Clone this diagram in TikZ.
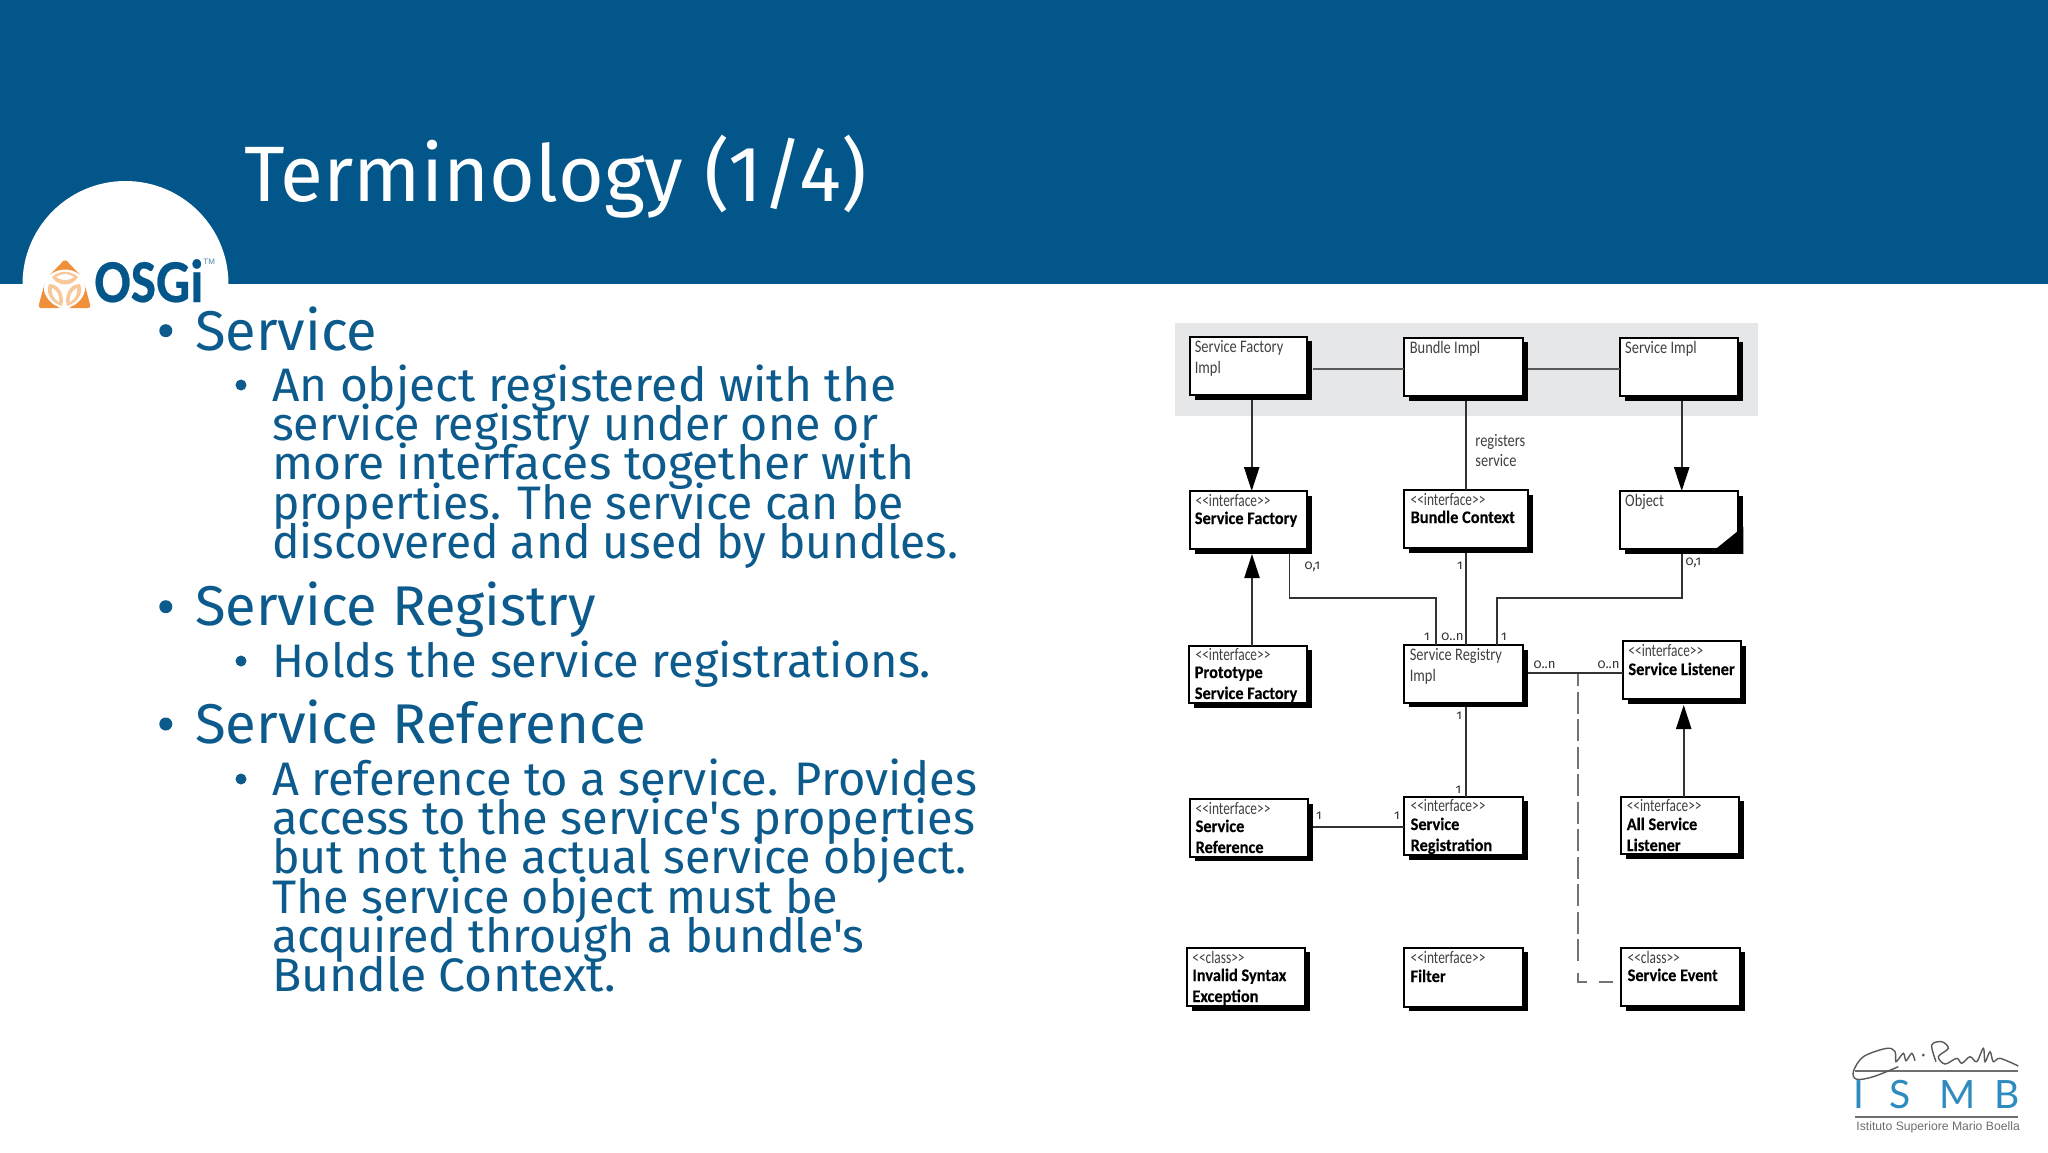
\documentclass[tikz,border=0pt]{standalone}
\usepackage{fontspec}
\newfontfamily\bodyfont{Fira Sans}
\newfontfamily\umlfont[FakeStretch=0.82]{Carlito}
\newfontfamily\umlster[FakeStretch=0.76]{Carlito}
\newfontfamily\umlb[FakeStretch=0.93,FakeBold=0.2]{Carlito}
\newfontfamily\multfont[Numbers=OldStyle]{Fira Sans}
\newfontfamily\osgifont[FakeStretch=0.88,FakeBold=0.4]{Carlito}
\newfontfamily\ismbfont{Liberation Sans}
\newfontfamily\ismbthin{Lato}
\usetikzlibrary{arrows.meta}
\definecolor{band}{HTML}{03568A}
\definecolor{bodyblue}{HTML}{0C5B8C}
\definecolor{grayband}{HTML}{E6E7E8}
\definecolor{orangeA}{HTML}{F0903A}
\definecolor{orangeB}{HTML}{F8C79A}
\definecolor{ismbblue}{HTML}{2E8BC0}
\definecolor{ismbgray}{HTML}{6E6E72}
\tikzset{
  uml/.style={draw=black,line width=1pt,fill=white},
  umlshadow/.style={fill=black,draw=none},
  conn/.style={draw=black!80,line width=.85pt},
  tri/.style={-{Triangle[length=12pt,width=7.6pt,color=black,fill=black]}},
  hA/.style={anchor=base west,inner sep=0,outer sep=0,text=bodyblue,font=\bodyfont\fontsize{28pt}{28pt}\selectfont},
  hB/.style={anchor=base west,inner sep=0,outer sep=0,text=bodyblue,font=\bodyfont\fontsize{23.5pt}{23.5pt}\selectfont},
  bull/.style={circle,fill=bodyblue,inner sep=0,minimum size=#1},
  lab/.style={anchor=base west,inner sep=0,outer sep=0,font=\umlfont\fontsize{8.8pt}{8.8pt}\selectfont,text=black!75},
  ster/.style={anchor=base west,inner sep=0,outer sep=0,font=\umlster\fontsize{8.8pt}{8.8pt}\selectfont,text=black!75},
  labb/.style={anchor=base west,inner sep=0,outer sep=0,font=\umlb\bfseries\fontsize{8.8pt}{8.8pt}\selectfont,text=black},
  mult/.style={anchor=base west,inner sep=0,outer sep=0,font=\multfont\fontsize{6.6pt}{6.6pt}\selectfont,text=black!80},
  ismbl/.style={anchor=base,inner sep=0,text=ismbblue,font=\ismbthin\fontsize{19.5pt}{19.5pt}\selectfont},
  sig/.style={black!65,line width=.7pt},
}
\newcommand{\sx}[2]{\scalebox{#1}[1]{#2}}
% \umlbox{name}{x1}{y1}{x2}{y2}
\newcommand{\umlbox}[5]{%
  \fill[umlshadow] (#2+5,#3+4.5) rectangle (#4+5,#5+4.5);
  \node[uml,anchor=north west,inner sep=0,outer sep=0,minimum width=#4*0.5pt-#2*0.5pt,minimum height=#5*0.5pt-#3*0.5pt] (#1) at (#2,#3) {};
}
\begin{document}
\begin{tikzpicture}[x=0.5pt,y=-0.5pt]
\useasboundingbox (0,0) rectangle (2048,1152);
\fill[white] (0,0) rectangle (2048,1152);
\fill[band] (0,0) rectangle (2048,284);
\fill[white] (22.5,284) arc (180:360:103) -- cycle;
\node[anchor=base west,inner sep=0,text=white,font=\bodyfont\fontsize{39.3pt}{39.3pt}\selectfont] (title) at (244,201) {Terminology (1/4)};
% OSGi logo
\fill[orangeA,rounded corners=1.5pt] (65,259) -- (81,276) .. controls (72,268) and (58,268) .. (49,276) -- cycle;
\fill[orangeA,rounded corners=1.5pt] (45,282) .. controls (42,292) and (48,303) .. (61,308) -- (38,308) -- cycle;
\fill[orangeA,rounded corners=1.5pt] (84,282) .. controls (87,292) and (81,303) .. (68,308) -- (91,308) -- cycle;
\fill[orangeB] (52,277) .. controls (60,270) and (70,270) .. (78,277) .. controls (72,287) and (58,287) .. (52,277) -- cycle;
\fill[white] (56,277) .. controls (62,273) and (68,273) .. (74,277) .. controls (68,281) and (62,281) .. (56,277) -- cycle;
\fill[orangeB] (49,284) .. controls (60,284) and (65,296) .. (62,306) .. controls (52,303) and (45,294) .. (49,284) -- cycle;
\fill[orangeB] (80,284) .. controls (69,284) and (64,296) .. (67,306) .. controls (77,303) and (84,294) .. (80,284) -- cycle;
\fill[white] (52,288) .. controls (57,290) and (60,296) .. (59,302) .. controls (54,299) and (51,294) .. (52,288) -- cycle;
\fill[white] (77,288) .. controls (72,290) and (69,296) .. (70,302) .. controls (75,299) and (78,294) .. (77,288) -- cycle;
\node[anchor=base west,inner sep=0,text=band,font=\osgifont\bfseries\fontsize{30.5pt}{30.5pt}\selectfont] (osgi) at (94,302) {OSGi};
\node[anchor=base west,inner sep=0,text=band!70,font=\ismbfont\fontsize{4pt}{4pt}\selectfont] (tm) at (203,264) {TM};
% text
\node[hA] (t1) at (195,350) {Service};
\node[hB] (t2) at (272,401.7) {\sx{1.017}{An object registered with the}};
\node[hB] (t3) at (272,440) {\sx{0.99}{service registry under one or}};
\node[hB] (t4) at (272,479.5) {\sx{1.02}{more interfaces together with}};
\node[hB] (t5) at (272,519) {\sx{0.984}{properties. The service can be}};
\node[hB] (t6) at (272,558.5) {\sx{0.981}{discovered and used by bundles.}};
\node[hA] (t7) at (195,625) {Service Registry};
\node[hB] (t8) at (272,677) {Holds the service registrations.};
\node[hA] (t9) at (195,743.7) {\sx{1.005}{Service Reference}};
\node[hB] (t10) at (272,795) {A reference to a service. Provides};
\node[hB] (t11) at (272,834.5) {access to the service's properties};
\node[hB] (t12) at (272,873.5) {\sx{0.99}{but not the actual service object.}};
\node[hB] (t13) at (272,913) {\sx{0.993}{The service object must be}};
\node[hB] (t14) at (272,952.5) {\sx{0.99}{acquired through a bundle's}};
\node[hB] (t15) at (272,991.7) {\sx{1.023}{Bundle Context.}};
\foreach \n/\y in {b1/330.7,b3/606.7,b5/724}{\node[bull=6.5pt] (\n) at (165.8,\y) {};}
\foreach \n/\y in {b2/385,b4/661,b6/779}{\node[bull=5.5pt] (\n) at (241,\y) {};}
% diagram
\fill[grayband] (1174.6,322.7) rectangle (1758,416);
\umlbox{sfi}{1189.6}{336.7}{1307.4}{395}
\umlbox{bi}{1404.3}{337.7}{1522.8}{396}
\umlbox{si}{1619.7}{337.7}{1738.3}{396}
\umlbox{sf}{1189.6}{491}{1307.4}{549.3}
\umlbox{bc}{1404.3}{490}{1527.6}{548.3}
\umlbox{obj}{1619.7}{491}{1738.3}{549.3}
\fill[black] (1743.3,526.7) -- (1743.3,553.8) -- (1715.3,553.8) -- (1715.3,549.3) -- cycle;
\umlbox{psf}{1188.9}{645.7}{1307.4}{703.3}
\umlbox{sri}{1404.3}{645}{1522.8}{702.7}
\umlbox{sl}{1622.5}{641}{1741}{699.3}
\umlbox{sref}{1189.6}{799}{1308.2}{856.7}
\umlbox{sreg}{1404.3}{796.7}{1522.8}{855}
\umlbox{asl}{1620.5}{796.7}{1739}{854.3}
\umlbox{ise}{1186.9}{947.7}{1305}{1006}
\umlbox{fil}{1404.3}{947.7}{1522.8}{1006.7}
\umlbox{sev}{1621.3}{947.7}{1739.8}{1006}
% connectors
\draw[conn,draw=black!65] (1312.6,369) -- (bi.west |- 0,369);
\draw[conn,draw=black!65] (1527.8,369) -- (si.west |- 0,369);
\draw[conn,tri] (1251.7,399.5) -- (sf.north -| 1251.7,0);
\draw[conn] (1466.3,400.5) -- (bc.north -| 1466.3,0);
\draw[conn,tri] (1681.7,400.5) -- (obj.north -| 1681.7,0);
\draw[conn,tri] (psf.north -| 1252,0) -- (1252,554);
\draw[conn] (1289.6,553.8) |- (1435.9,598) -- (sri.north -| 1435.9,0);
\draw[conn] (1466.3,552.8) -- (sri.north -| 1466.3,0);
\draw[conn] (1681.7,553.8) |- (1497.2,598) -- (sri.north -| 1497.2,0);
\draw[conn] (1527.8,672.7) -- (sl.west |- 0,672.7);
\draw[conn,draw=black!55,dash pattern=on 11pt off 2.75pt,dash phase=5pt] (1578.2,674) -- (1578.2,961);
\coordinate (dhook) at (1578.2,981.7);
\draw[conn,draw=black!55] (1578.2,973) -- (dhook) -- (1587,981.7);
\draw[conn,draw=black!55] (1598.7,981.7) -- (1613.4,981.7);
\draw[conn] (1466.3,707.2) -- (sreg.north -| 1466.3,0);
\draw[conn] (1313.2,826.7) -- (sreg.west |- 0,826.7);
\draw[conn,tri] (asl.north -| 1683.7,0) -- (1683.7,705);
% labels
\node[lab] (l1) at (1194.8,352) {Service Factory};
\node[lab] (l2) at (1194.8,373) {Impl};
\node[lab] (l3) at (1409.8,353) {Bundle Impl};
\node[lab] (l4) at (1625.2,353) {Service Impl};
\node[lab] (l5) at (1475.4,446) {registers};
\node[lab] (l6) at (1475.4,466) {service};
\node[ster] (l7) at (1195.6,506) {<<interface>>};
\node[labb] (l8) at (1194.8,524) {Service Factory};
\node[ster] (l9) at (1410.6,505) {<<interface>>};
\node[labb] (l10) at (1410.6,523) {Bundle Context};
\node[lab] (l11) at (1625.2,506) {Object};
\node[ster] (l12) at (1195.6,660) {<<interface>>};
\node[labb] (l13) at (1194.8,678) {Prototype};
\node[labb] (l14) at (1194.8,699) {Service Factory};
\node[lab] (l15) at (1409.8,660) {Service Registry};
\node[lab] (l16) at (1409.8,681) {Impl};
\node[ster] (l17) at (1628.4,656) {<<interface>>};
\node[labb] (l18) at (1628.4,675) {Service Listener};
\node[ster] (l19) at (1195.6,814) {<<interface>>};
\node[labb] (l20) at (1195.6,832) {Service};
\node[labb] (l21) at (1195.6,853) {Reference};
\node[ster] (l22) at (1410.6,811) {<<interface>>};
\node[labb] (l23) at (1410.6,830) {Service};
\node[labb] (l24) at (1410.6,851) {Registration};
\node[ster] (l25) at (1626.8,811) {<<interface>>};
\node[labb] (l26) at (1626.8,830) {All Service};
\node[labb] (l27) at (1626.8,851) {Listener};
\node[ster] (l28) at (1192.4,963) {<<class>>};
\node[labb] (l29) at (1192.4,981) {Invalid Syntax};
\node[labb] (l30) at (1192.4,1002) {Exception};
\node[ster] (l31) at (1410.6,963) {<<interface>>};
\node[labb] (l32) at (1410.6,982) {Filter};
\node[ster] (l33) at (1627.6,963) {<<class>>};
\node[labb] (l34) at (1627.6,981) {Service Event};
% multiplicities
\node[mult] (m1) at (1304.7,569) {0,1};
\node[mult] (m2) at (1457,569) {1};
\node[mult] (m3) at (1685.7,565) {0,1};
\node[mult] (m4) at (1424,640) {1};
\node[mult] (m5) at (1441.4,640) {0..n};
\node[mult] (m6) at (1501,640) {1};
\node[mult] (m7) at (1533.5,668) {0..n};
\node[mult] (m8) at (1597.5,668) {0..n};
\node[mult] (m9) at (1456.4,719) {1};
\node[mult] (m10) at (1455.7,793) {1};
\node[mult] (m11) at (1316,819) {1};
\node[mult] (m12) at (1394,819) {1};
% ISMB logo
\draw[ismbgray,line width=1pt] (1855,1070.7) -- (2018,1070.7);
\draw[ismbgray,line width=1pt] (1855,1116.7) -- (2018,1116.7);
\draw[sig] plot[smooth,tension=0.55] coordinates {(1898.3,1066.7) (1873.3,1076.7) (1856.7,1079.3) (1853.3,1071.7) (1863.3,1056.7) (1886.7,1048.3) (1895,1051.7) (1896,1061.7) (1903.3,1053.3) (1906,1060.7) (1911.7,1053.3) (1915,1060.7)};
\fill[black!65] (1923.3,1055) circle (1.6);
\draw[sig] plot[smooth,tension=0.55] coordinates {(1936,1061.7) (1931.7,1045) (1941.7,1041.7) (1948.3,1048.3) (1938.3,1056.7) (1945,1064) (1956.7,1058.3) (1961.7,1063.3) (1970,1056.7) (1976.7,1061.7) (1983.3,1048.3) (1985,1061.7) (1990,1051.7) (1993.3,1061.7) (2000,1058.3) (2018.3,1066)};
\node[ismbl] (iI) at (1859,1108) {I};
\node[ismbl] (iS) at (1900,1108) {S};
\node[ismbl] (iM) at (1957.7,1108) {M};
\node[ismbl] (iB) at (2006.7,1108) {B};
\node[anchor=base west,inner sep=0,text=ismbgray,font=\ismbfont\fontsize{6.1pt}{6.1pt}\selectfont] (isub) at (1856,1130.7) {Istituto Superiore Mario Boella};
\end{tikzpicture}
\end{document}
